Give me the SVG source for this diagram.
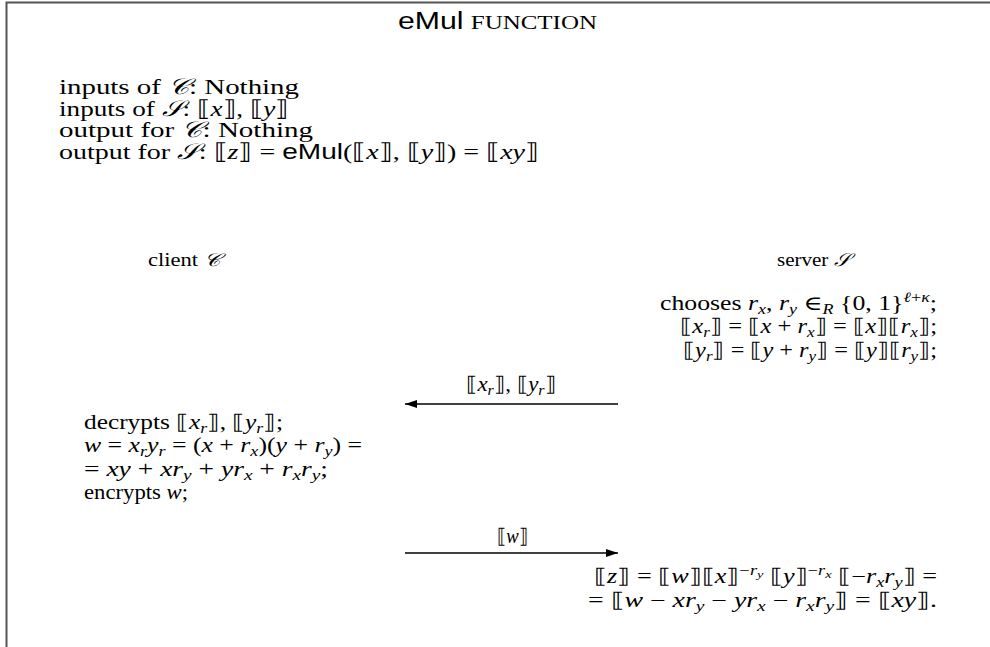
<svg xmlns="http://www.w3.org/2000/svg" width="990" height="647" viewBox="0 0 990 647">
<defs>
<style>
.t{font-family:"Liberation Serif","DejaVu Serif",serif;font-size:22px;fill:#000}
.s{font-size:20px}
.lb{font-size:18px}
.i{font-style:italic}
.sub{font-size:14px}
.ss{font-size:11px}
.sf{font-family:"Liberation Sans","DejaVu Sans",sans-serif}
.cal{font-family:"DejaVu Serif","Noto Sans","DejaVu Sans",serif;font-style:italic}
.ln{stroke:#000;stroke-width:1.3;fill:none}
</style>
<marker id="ah" viewBox="0 0 12 8" refX="12" refY="4" markerWidth="12" markerHeight="8" markerUnits="userSpaceOnUse" orient="auto">
<path d="M0,0 L12,4 L0,8 Z" fill="#000"/>
</marker>
</defs>
<rect width="990" height="647" fill="#fff"/>
<path d="M6.5,647 V2.5 H990" fill="none" stroke="#555" stroke-width="2"/>

<g id="title">
<text class="t" x="398" y="29" textLength="199" lengthAdjust="spacingAndGlyphs"><tspan class="sf" font-size="23">eMul</tspan> <tspan font-size="19">FUNCTION</tspan></text>
</g>

<g id="spec">
<text class="t" x="59" y="94" textLength="240" lengthAdjust="spacingAndGlyphs">inputs of <tspan class="cal">𝒞</tspan>: Nothing</text>
<text class="t" x="59" y="116" textLength="230" lengthAdjust="spacingAndGlyphs">inputs of <tspan class="cal">𝒮</tspan>: ⟦<tspan class="i">x</tspan>⟧, ⟦<tspan class="i">y</tspan>⟧</text>
<text class="t" x="59" y="137" textLength="254" lengthAdjust="spacingAndGlyphs">output for <tspan class="cal">𝒞</tspan>: Nothing</text>
<text class="t" x="59" y="159" textLength="480" lengthAdjust="spacingAndGlyphs">output for <tspan class="cal">𝒮</tspan>: ⟦<tspan class="i">z</tspan>⟧ = <tspan class="sf">eMul</tspan>(⟦<tspan class="i">x</tspan>⟧, ⟦<tspan class="i">y</tspan>⟧) = ⟦<tspan class="i">xy</tspan>⟧</text>
</g>

<g id="client">
<text class="t lb" x="148" y="266" textLength="72" lengthAdjust="spacingAndGlyphs">client <tspan class="cal">𝒞</tspan></text>
</g>
<g id="server">
<text class="t lb" x="777" y="266" textLength="73" lengthAdjust="spacingAndGlyphs">server <tspan class="cal">𝒮</tspan></text>
</g>

<g id="server-step1">
<text class="t s" x="937" y="310" text-anchor="end" textLength="277" lengthAdjust="spacingAndGlyphs">chooses <tspan class="i">r</tspan><tspan class="sub i" dy="4">x</tspan><tspan dy="-4">, </tspan><tspan class="i">r</tspan><tspan class="sub i" dy="4">y</tspan><tspan dy="-4"> ∈</tspan><tspan class="sub i" dy="4">R</tspan><tspan dy="-4"> {0, 1}</tspan><tspan class="sub i" dy="-8">ℓ</tspan><tspan class="sub">+</tspan><tspan class="sub i">κ</tspan><tspan dy="8">;</tspan></text>
<text class="t s" x="937" y="333" text-anchor="end" textLength="257" lengthAdjust="spacingAndGlyphs">⟦<tspan class="i">x</tspan><tspan class="sub i" dy="4">r</tspan><tspan dy="-4">⟧ = ⟦</tspan><tspan class="i">x</tspan> + <tspan class="i">r</tspan><tspan class="sub i" dy="4">x</tspan><tspan dy="-4">⟧ = ⟦</tspan><tspan class="i">x</tspan>⟧⟦<tspan class="i">r</tspan><tspan class="sub i" dy="4">x</tspan><tspan dy="-4">⟧;</tspan></text>
<text class="t s" x="937" y="357" text-anchor="end" textLength="254" lengthAdjust="spacingAndGlyphs">⟦<tspan class="i">y</tspan><tspan class="sub i" dy="4">r</tspan><tspan dy="-4">⟧ = ⟦</tspan><tspan class="i">y</tspan> + <tspan class="i">r</tspan><tspan class="sub i" dy="4">y</tspan><tspan dy="-4">⟧ = ⟦</tspan><tspan class="i">y</tspan>⟧⟦<tspan class="i">r</tspan><tspan class="sub i" dy="4">y</tspan><tspan dy="-4">⟧;</tspan></text>
</g>

<g id="client-step">
<text class="t s" x="84" y="429" textLength="199" lengthAdjust="spacingAndGlyphs">decrypts ⟦<tspan class="i">x</tspan><tspan class="sub i" dy="4">r</tspan><tspan dy="-4">⟧, ⟦</tspan><tspan class="i">y</tspan><tspan class="sub i" dy="4">r</tspan><tspan dy="-4">⟧;</tspan></text>
<text class="t s" x="84" y="452" textLength="278" lengthAdjust="spacingAndGlyphs"><tspan class="i">w</tspan> = <tspan class="i">x</tspan><tspan class="sub i" dy="4">r</tspan><tspan class="i" dy="-4">y</tspan><tspan class="sub i" dy="4">r</tspan><tspan dy="-4"> = (</tspan><tspan class="i">x</tspan> + <tspan class="i">r</tspan><tspan class="sub i" dy="4">x</tspan><tspan dy="-4">)(</tspan><tspan class="i">y</tspan> + <tspan class="i">r</tspan><tspan class="sub i" dy="4">y</tspan><tspan dy="-4">) =</tspan></text>
<text class="t s" x="84" y="476" textLength="244" lengthAdjust="spacingAndGlyphs">= <tspan class="i">xy</tspan> + <tspan class="i">xr</tspan><tspan class="sub i" dy="4">y</tspan><tspan dy="-4"> + </tspan><tspan class="i">yr</tspan><tspan class="sub i" dy="4">x</tspan><tspan dy="-4"> + </tspan><tspan class="i">r</tspan><tspan class="sub i" dy="4">x</tspan><tspan class="i" dy="-4">r</tspan><tspan class="sub i" dy="4">y</tspan><tspan dy="-4">;</tspan></text>
<text class="t s" x="84" y="499" textLength="104" lengthAdjust="spacingAndGlyphs">encrypts <tspan class="i">w</tspan>;</text>
</g>

<g id="server-step2">
<text class="t s" x="937" y="583" text-anchor="end" textLength="343" lengthAdjust="spacingAndGlyphs">⟦<tspan class="i">z</tspan>⟧ = ⟦<tspan class="i">w</tspan>⟧⟦<tspan class="i">x</tspan>⟧<tspan class="sub" dy="-8">−</tspan><tspan class="sub i">r</tspan><tspan class="ss i" dy="3">y</tspan><tspan dy="5"> ⟦</tspan><tspan class="i">y</tspan>⟧<tspan class="sub" dy="-8">−</tspan><tspan class="sub i">r</tspan><tspan class="ss i" dy="3">x</tspan><tspan dy="5"> ⟦−</tspan><tspan class="i">r</tspan><tspan class="sub i" dy="4">x</tspan><tspan class="i" dy="-4">r</tspan><tspan class="sub i" dy="4">y</tspan><tspan dy="-4">⟧ =</tspan></text>
<text class="t s" x="937" y="607" text-anchor="end" textLength="349" lengthAdjust="spacingAndGlyphs">= ⟦<tspan class="i">w</tspan> − <tspan class="i">xr</tspan><tspan class="sub i" dy="4">y</tspan><tspan dy="-4"> − </tspan><tspan class="i">yr</tspan><tspan class="sub i" dy="4">x</tspan><tspan dy="-4"> − </tspan><tspan class="i">r</tspan><tspan class="sub i" dy="4">x</tspan><tspan class="i" dy="-4">r</tspan><tspan class="sub i" dy="4">y</tspan><tspan dy="-4">⟧ = ⟦</tspan><tspan class="i">xy</tspan>⟧.</text>
</g>

<g id="connectors">
<line class="ln" x1="618" y1="404" x2="405" y2="404" marker-end="url(#ah)"/>
<text class="t s" x="466" y="391" textLength="90" lengthAdjust="spacingAndGlyphs">⟦<tspan class="i">x</tspan><tspan class="sub i" dy="4">r</tspan><tspan dy="-4">⟧, ⟦</tspan><tspan class="i">y</tspan><tspan class="sub i" dy="4">r</tspan><tspan dy="-4">⟧</tspan></text>
<line class="ln" x1="405" y1="553" x2="618" y2="553" marker-end="url(#ah)"/>
<text class="t s" x="497" y="543" textLength="31" lengthAdjust="spacingAndGlyphs">⟦<tspan class="i">w</tspan>⟧</text>
</g>
</svg>
